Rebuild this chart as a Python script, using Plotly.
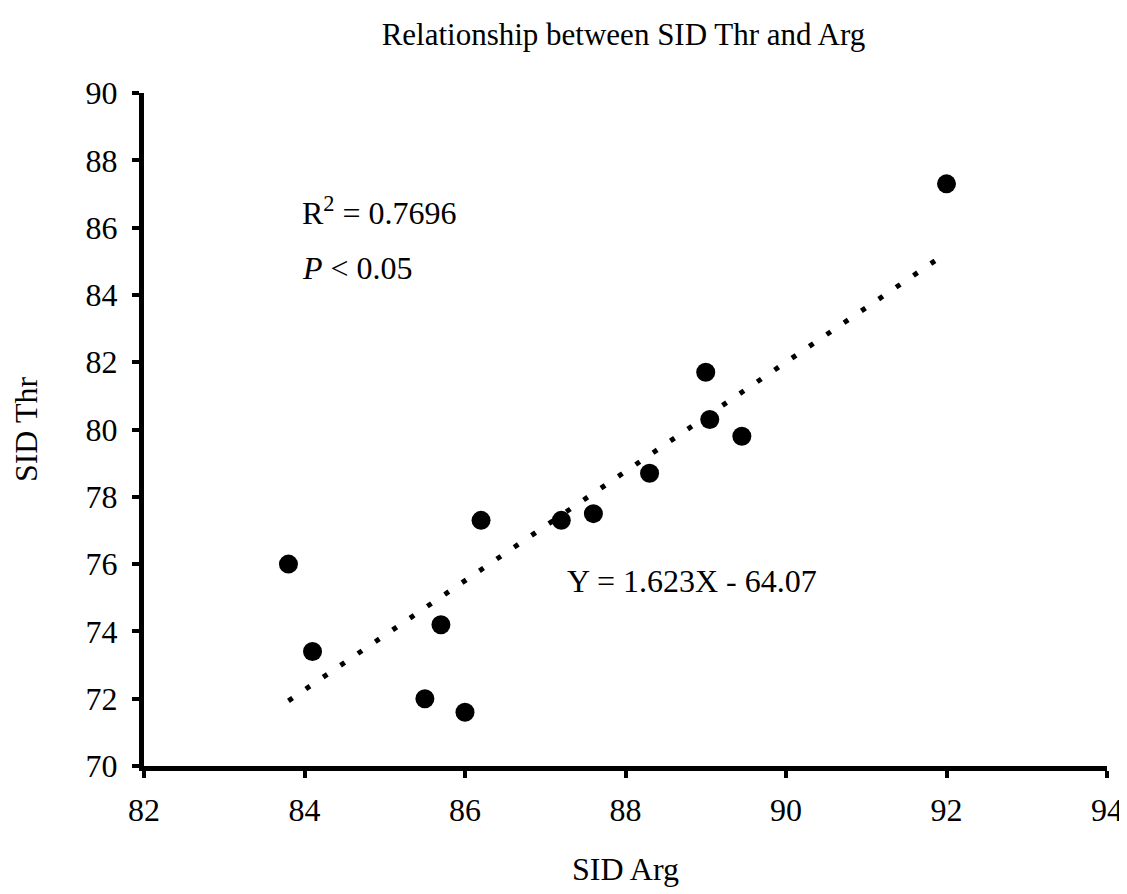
import plotly.graph_objects as go

# Data
sid_arg = [83.8, 84.1, 85.5, 85.7, 86.0, 86.2, 87.2, 87.6, 88.3, 89.0, 89.05, 89.45, 92.0]
sid_thr = [76.0, 73.4, 72.0, 74.2, 71.6, 77.3, 77.3, 77.5, 78.7, 81.7, 80.3, 79.8, 87.3]

slope = 1.623
intercept = -64.07

title_text = "Relationship between SID Thr and Arg"
x_title = "SID Arg"
y_title = "SID Thr"

FONT = "Liberation Serif, Times New Roman, serif"

x_lo, x_hi = min(sid_arg), max(sid_arg)
trend_x = [x_lo, x_hi]
trend_y = [slope * v + intercept for v in trend_x]

fig = go.Figure()
fig.add_trace(go.Scatter(
    x=trend_x, y=trend_y, mode="lines",
    line=dict(color="black", width=5, dash="5px,16px"),
    showlegend=False, hoverinfo="skip",
))
fig.add_trace(go.Scatter(
    x=sid_arg, y=sid_thr, mode="markers",
    marker=dict(color="black", size=19),
    showlegend=False,
))

fig.add_annotation(x=83.95, y=86.5, xref="x", yref="y", xanchor="left", yanchor="middle",
                   text="R<sup>2</sup> = 0.7696", showarrow=False,
                   font=dict(family=FONT, size=32, color="black"))
fig.add_annotation(x=83.95, y=84.8, xref="x", yref="y", xanchor="left", yanchor="middle",
                   text="<i>P</i> &lt; 0.05", showarrow=False,
                   font=dict(family=FONT, size=32, color="black"))
fig.add_annotation(x=87.25, y=75.5, xref="x", yref="y", xanchor="left", yanchor="middle",
                   text="Y = 1.623X - 64.07", showarrow=False,
                   font=dict(family=FONT, size=32, color="black"))

fig.update_layout(
    width=1119, height=886,
    margin=dict(l=136, r=20, t=85, b=128),
    paper_bgcolor="white", plot_bgcolor="white",
    title=dict(text=title_text, x=0.55, xanchor="center", y=0.971, yanchor="middle",
               font=dict(family=FONT, size=31, color="black")),
    font=dict(family=FONT, color="black"),
)
fig.update_xaxes(
    range=[82, 94], dtick=2, tick0=82, automargin=False,
    showline=True, linecolor="black", linewidth=5,
    ticks="outside", ticklen=7, tickwidth=4, tickcolor="black",
    showgrid=False, zeroline=False,
    tickfont=dict(family=FONT, size=32, color="black"),
    ticklabelstandoff=5,
    title=dict(text=x_title, font=dict(family=FONT, size=32, color="black"), standoff=32),
)
fig.update_yaxes(
    range=[70, 90], dtick=2, tick0=70, automargin=False,
    showline=True, linecolor="black", linewidth=5,
    ticks="outside", ticklen=7, tickwidth=4, tickcolor="black",
    showgrid=False, zeroline=False,
    tickfont=dict(family=FONT, size=32, color="black"),
    ticklabelstandoff=8,
    title=dict(text=y_title, font=dict(family=FONT, size=32, color="black"), standoff=41),
)

fig.write_html("out.html")
